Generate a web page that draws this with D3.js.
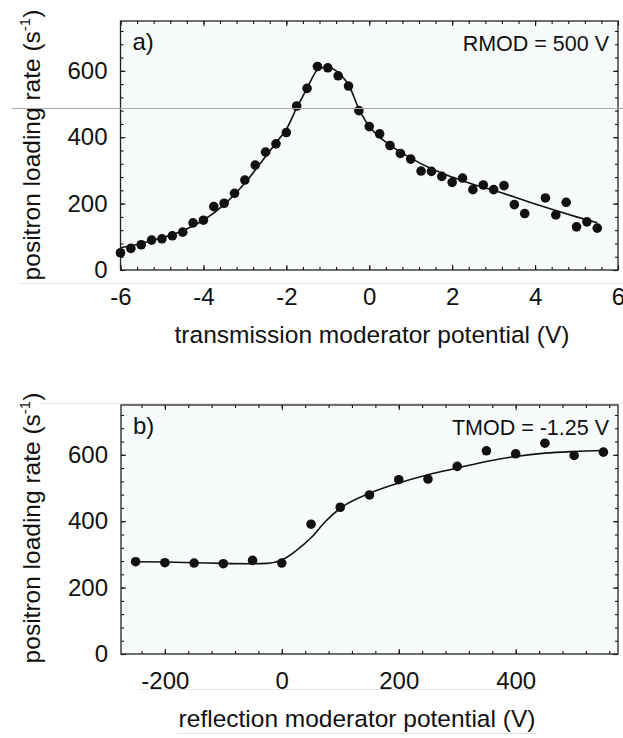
<!DOCTYPE html>
<html><head><meta charset="utf-8">
<script src="https://cdn.jsdelivr.net/npm/d3@7"></script>
<style>
html,body{margin:0;padding:0;background:#fff;}
svg{display:block;font-family:"Liberation Sans",Arial,sans-serif;}
</style></head><body>
<svg id="chart" width="623" height="738"></svg>
<script>
// (a) loading rate against the transmission moderator potential, RMOD = 500 V
const transPotential = [-6,-5.75,-5.5,-5.25,-5,-4.75,-4.5,-4.25,-4,-3.75,-3.5,-3.25,-3,-2.75,-2.5,-2.25,-2,-1.75,-1.5,-1.25,-1,-0.75,-0.5,-0.25,0,0.25,0.5,0.75,1,1.25,1.5,1.75,2,2.25,2.5,2.75,3,3.25,3.5,3.75,4.25,4.5,4.75,5,5.25,5.5];
const transRate = [52,65,76,90,94,103,114,142,150,191,201,231,271,316,355,380,414,494,547,613,609,585,554,480,432,410,375,351,334,298,297,282,264,277,242,256,242,254,197,170,217,166,204,130,145,126];
const transFitPotential = [-6,-5.5,-5,-4.5,-4,-3.5,-3,-2.5,-2.25,-2,-1.75,-1.5,-1.25,-1.1,-1,-0.9,-0.75,-0.6,-0.5,-0.25,0,0.25,0.5,1,1.5,2,2.5,3,3.5,4,4.5,5,5.5];
const transFitRate = [67,80,97,118,150,197,262,342,383,424,488,547,603,610,611,608,595,575,558,485,432,400,376,337,305,280,258,240,220,199,179,160,142];

// (b) loading rate against the reflection moderator potential, TMOD = -1.25 V
const reflPotential = [-250,-200,-150,-100,-50,0,50,100,150,200,250,300,350,400,450,500,550];
const reflRate = [278,275,274,272,282,274,391,442,479,525,527,565,612,603,635,598,608];
const reflFitPotential = [-250,-200,-150,-100,-50,-25,0,25,50,75,100,150,200,250,300,350,400,450,500,550];
const reflFitRate = [278,277,275,273,272,273,283,312,350,400,439,484,515,540,560,580,595,605,610,613];

// axis tick labels
const transTicks = [-6,-4,-2,0,2,4,6];
const reflTicks = [-200,0,200,400];
const rateTicks = [0,200,400,600];

const svg = d3.select("#chart");
const ink = "#111";
const plain = d => String(d);   // keep an ASCII hyphen for negatives

// faint scan lines across the sheet
const rules = [
  {x1:12, x2:623, y:108.5, c:"#a9a9a9"},
  {x1:20, x2:623, y:283.5, c:"#e4e4e4"},
  {x1:40, x2:623, y:403.5, c:"#e4e4e4"},
  {x1:140, x2:537, y:689.5, c:"#e2e2e2"},
  {x1:177, x2:537, y:733.5, c:"#e2e2e2"}
];

function panel(opt) {
  const {left, top, right, bottom} = opt.box;
  const x = d3.scaleLinear().domain(opt.xDomain).range([left, right]);
  const y = d3.scaleLinear().domain([0, 750]).range([bottom, top]);
  const g = svg.append("g");

  g.append("rect").attr("x", left).attr("y", top)
    .attr("width", right - left).attr("height", bottom - top)
    .attr("fill", "#f8fbfc");

  const minorX = d3.range(opt.xMinorStart, opt.xDomain[1] + 1e-9, opt.xMinorStep)
    .map(v => +v.toFixed(4));
  const minorY = d3.range(0, 750, 40);

  const styleAxis = sel => {
    sel.select(".domain").remove();
    sel.selectAll("line").attr("stroke", ink).attr("stroke-width", 1.1);
    sel.selectAll("text").attr("fill", "#111").attr("font-size", 24)
      .attr("font-family", '"Liberation Sans", Arial, sans-serif');
  };

  // minor ticks on all four sides
  g.append("g").attr("transform", `translate(0,${bottom})`)
    .call(d3.axisBottom(x).tickValues(minorX).tickSize(-3).tickFormat("")).call(styleAxis);
  g.append("g").attr("transform", `translate(0,${top})`)
    .call(d3.axisTop(x).tickValues(minorX).tickSize(-3).tickFormat("")).call(styleAxis);
  g.append("g").attr("transform", `translate(${left},0)`)
    .call(d3.axisLeft(y).tickValues(minorY).tickSize(-3).tickFormat("")).call(styleAxis);
  g.append("g").attr("transform", `translate(${right},0)`)
    .call(d3.axisRight(y).tickValues(minorY).tickSize(-3).tickFormat("")).call(styleAxis);

  // major ticks with labels
  g.append("g").attr("transform", `translate(0,${bottom})`)
    .call(d3.axisBottom(x).tickValues(opt.xTicks).tickSize(-5).tickPadding(18).tickFormat(plain))
    .call(styleAxis);
  g.append("g").attr("transform", `translate(0,${top})`)
    .call(d3.axisTop(x).tickValues(opt.xTicks).tickSize(-5).tickFormat("")).call(styleAxis);
  g.append("g").attr("transform", `translate(${left},0)`)
    .call(d3.axisLeft(y).tickValues(rateTicks).tickSize(-5).tickPadding(13).tickFormat(plain))
    .call(styleAxis);
  g.append("g").attr("transform", `translate(${right},0)`)
    .call(d3.axisRight(y).tickValues(rateTicks).tickSize(-5).tickFormat("")).call(styleAxis);

  // frame
  g.append("rect").attr("x", left).attr("y", top)
    .attr("width", right - left).attr("height", bottom - top)
    .attr("fill", "none").attr("stroke", "#222").attr("stroke-width", 1.3);

  // fit curve
  const fit = opt.fitX.map((v, i) => [v, opt.fitY[i]]);
  g.append("path").datum(fit)
    .attr("fill", "none").attr("stroke", ink).attr("stroke-width", 1.6)
    .attr("d", d3.line().x(d => x(d[0])).y(d => y(d[1])).curve(d3.curveMonotoneX));

  // measured points
  g.selectAll("circle.pt").data(opt.ptX.map((v, i) => [v, opt.ptY[i]]))
    .join("circle").attr("class", "pt")
    .attr("cx", d => x(d[0])).attr("cy", d => y(d[1])).attr("r", 4.8)
    .attr("fill", ink);

  // panel tag and setting
  g.append("text").attr("x", left + 12).attr("y", top + 29)
    .attr("font-size", 24).attr("fill", "#111").text(opt.tag);
  g.append("text").attr("x", right - 9).attr("y", top + 30)
    .attr("font-size", 21.5).attr("fill", "#111").attr("text-anchor", "end").text(opt.setting);

  // x title
  g.append("text").attr("x", opt.xTitlePos[0]).attr("y", opt.xTitlePos[1])
    .attr("font-size", 24.5).attr("fill", "#111").attr("text-anchor", "middle").text(opt.xTitle);

  // y title with superscript unit
  const yt = g.append("text")
    .attr("transform", `translate(40,${opt.yTitleCenter}) rotate(-90)`)
    .attr("font-size", 24.5).attr("fill", "#111").attr("text-anchor", "middle");
  yt.append("tspan").text("positron loading rate (s");
  yt.append("tspan").attr("font-size", 15).attr("dy", -10).text("-1");
  yt.append("tspan").attr("dy", 10).text(")");
}

panel({
  box: {left: 120.5, top: 21, right: 618, bottom: 270},
  xDomain: [-6, 6], xMinorStart: -6, xMinorStep: 0.4, xTicks: transTicks,
  ptX: transPotential, ptY: transRate, fitX: transFitPotential, fitY: transFitRate,
  tag: "a)", setting: "RMOD = 500 V",
  xTitle: "transmission moderator potential (V)", xTitlePos: [372, 343],
  yTitleCenter: 145
});

panel({
  box: {left: 121, top: 405, right: 618, bottom: 654},
  xDomain: [-275, 575], xMinorStart: -240, xMinorStep: 40, xTicks: reflTicks,
  ptX: reflPotential, ptY: reflRate, fitX: reflFitPotential, fitY: reflFitRate,
  tag: "b)", setting: "TMOD = -1.25 V",
  xTitle: "reflection moderator potential (V)", xTitlePos: [357, 727],
  yTitleCenter: 528
});

svg.selectAll("line.rule").data(rules).join("line").attr("class", "rule")
  .attr("x1", d => d.x1).attr("x2", d => d.x2).attr("y1", d => d.y).attr("y2", d => d.y)
  .attr("stroke", d => d.c).attr("stroke-width", 1);
</script>
</body></html>
